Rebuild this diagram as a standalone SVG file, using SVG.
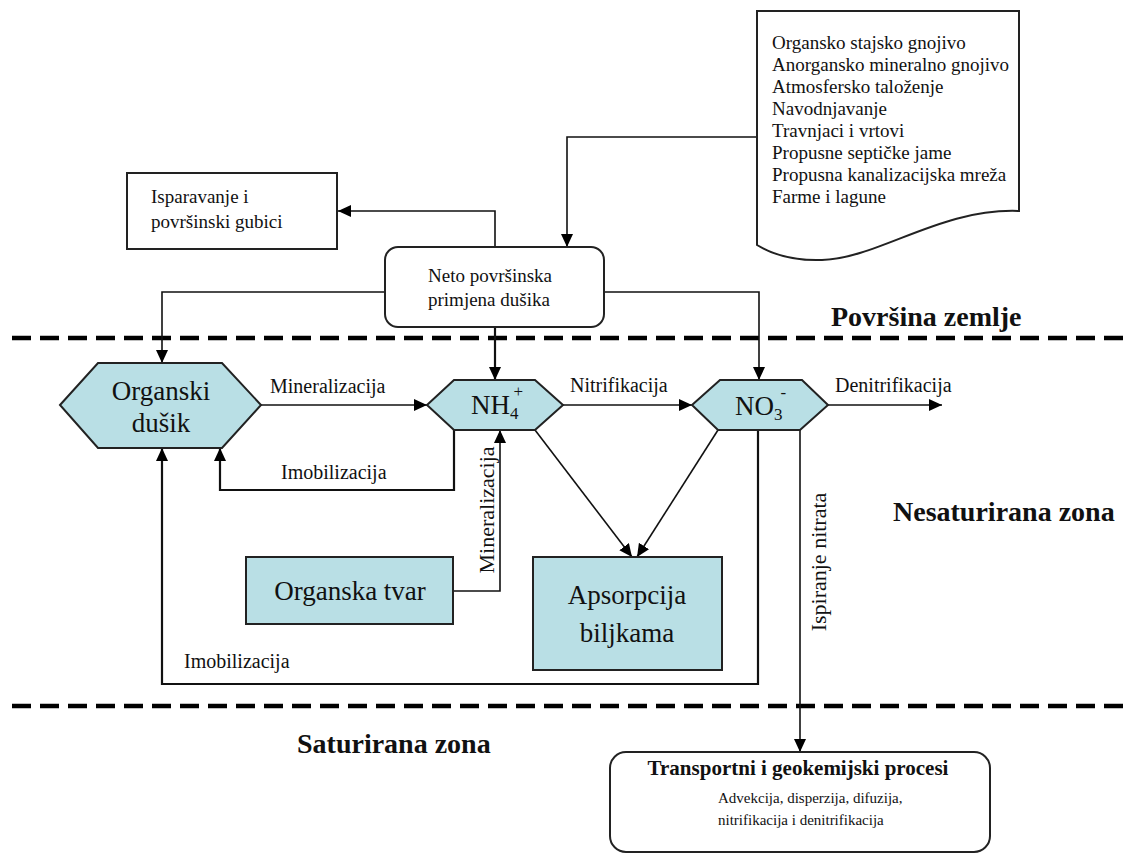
<svg xmlns="http://www.w3.org/2000/svg" width="1124" height="856" viewBox="0 0 1124 856">
<style>
text{font-family:"Liberation Serif","Times New Roman",serif;fill:#111}
.src{font-size:19px}
.lbl{font-size:20px}
.vl{font-size:22px}
.big{font-size:27px}
.zone{font-size:28px;font-weight:bold}
.node{fill:#b9dfe5;stroke:#222;stroke-width:2}
.box{fill:#fff;stroke:#222;stroke-width:2}
.c{fill:none;stroke:#111;stroke-width:1.6}
.t{stroke-width:2.2}
.dash{stroke:#000;stroke-width:4.5;stroke-dasharray:19 9;fill:none}
</style>
<defs>
<marker id="ah" markerUnits="userSpaceOnUse" markerWidth="13" markerHeight="12" refX="13" refY="6" orient="auto">
<path d="M0,0 L13,6 L0,12 z" fill="#000"/>
</marker>
</defs>
<rect width="1124" height="856" fill="#fff"/>

<g id="zones">
<line class="dash" x1="12" y1="338" x2="1124" y2="338"/>
<line class="dash" x1="12" y1="706" x2="1124" y2="706"/>
<text class="zone" x="831" y="326">Površina zemlje</text>
<text class="zone" x="893" y="521">Nesaturirana zona</text>
<text class="zone" x="297" y="753">Saturirana zona</text>
</g>

<g id="connectors">
<path class="c" d="M757,137 H567 V247" marker-end="url(#ah)"/>
<path class="c" d="M495,247 V211 H338" marker-end="url(#ah)"/>
<path class="c" d="M385,292 H162 V363" marker-end="url(#ah)"/>
<path class="c t" d="M495,327 V380" marker-end="url(#ah)"/>
<path class="c" d="M604,292 H759 V380" marker-end="url(#ah)"/>
<path class="c" d="M261,405 H427" marker-end="url(#ah)"/>
<path class="c" d="M563,405 H692" marker-end="url(#ah)"/>
<path class="c" d="M828,405 H942" marker-end="url(#ah)"/>
<path class="c t" d="M454,430 V490 H220 V448" marker-end="url(#ah)"/>
<path class="c" d="M453,591 H500 V430" marker-end="url(#ah)"/>
<path class="c" d="M535,430 L632,557" stroke-width="2.6" marker-end="url(#ah)"/>
<path class="c" d="M718,430 L637,557" marker-end="url(#ah)"/>
<path class="c t" d="M758,430 V684 H162 V448" marker-end="url(#ah)"/>
<path class="c" d="M800,430 V752" marker-end="url(#ah)"/>
<text class="lbl" x="270" y="393">Mineralizacija</text>
<text class="lbl" x="570" y="392">Nitrifikacija</text>
<text class="lbl" x="835" y="392">Denitrifikacija</text>
<text class="lbl" x="281" y="479">Imobilizacija</text>
<text class="lbl" x="184" y="668">Imobilizacija</text>
<text class="vl" transform="translate(494,510) rotate(-90)" text-anchor="middle">Mineralizacija</text>
<text class="vl" transform="translate(826,562) rotate(-90)" text-anchor="middle">Ispiranje nitrata</text>
</g>

<g id="sources">
<path class="box" d="M757,11 H1019 V211 C940,208 880,258 822,260 C795,261 772,254 757,245 Z"/>
<text class="src" x="772" y="49">Organsko stajsko gnojivo</text>
<text class="src" x="772" y="71">Anorgansko mineralno gnojivo</text>
<text class="src" x="772" y="93">Atmosfersko taloženje</text>
<text class="src" x="772" y="115">Navodnjavanje</text>
<text class="src" x="772" y="137">Travnjaci i vrtovi</text>
<text class="src" x="772" y="159">Propusne septičke jame</text>
<text class="src" x="772" y="181">Propusna kanalizacijska mreža</text>
<text class="src" x="772" y="203">Farme i lagune</text>
</g>

<g id="isparavanje">
<rect class="box" x="127" y="173" width="210" height="76"/>
<text class="src" x="151" y="203">Isparavanje i</text>
<text class="src" x="151" y="228">površinski gubici</text>
</g>

<g id="neto">
<rect class="box" x="385" y="247" width="219" height="80" rx="13"/>
<text class="src" x="428" y="282">Neto površinska</text>
<text class="src" x="428" y="306">primjena dušika</text>
</g>

<g id="organski-dusik">
<polygon class="node" points="60,405 98,363 222,363 261,405 222,448 98,448"/>
<text class="big" x="161" y="400" text-anchor="middle">Organski</text>
<text class="big" x="161" y="432" text-anchor="middle">dušik</text>
</g>

<g id="nh4">
<polygon class="node" points="427,405 454,380 535,380 563,405 535,430 454,430"/>
<text class="big" x="471" y="414" font-size="26">NH<tspan font-size="17" dy="5">4</tspan><tspan font-size="17" dx="-5" dy="-22">+</tspan></text>
</g>

<g id="no3">
<polygon class="node" points="692,405 720,380 802,380 828,405 800,430 718,430"/>
<text class="big" x="735" y="415">NO<tspan font-size="17" dy="5">3</tspan><tspan font-size="17" dx="-2" dy="-22">-</tspan></text>
</g>

<g id="organska-tvar">
<rect class="node" x="246" y="557" width="207" height="67"/>
<text class="big" x="350" y="600" text-anchor="middle">Organska tvar</text>
</g>

<g id="apsorpcija">
<rect class="node" x="533" y="557" width="189" height="113"/>
<text class="big" x="627" y="604" text-anchor="middle">Apsorpcija</text>
<text class="big" x="627" y="642" text-anchor="middle">biljkama</text>
</g>

<g id="transport">
<rect class="box" x="610" y="752" width="380" height="100" rx="16"/>
<text x="798" y="775" text-anchor="middle" font-size="21" font-weight="bold">Transportni i geokemijski procesi</text>
<text x="718" y="803" font-size="15">Advekcija, disperzija, difuzija,</text>
<text x="718" y="825" font-size="15">nitrifikacija i denitrifikacija</text>
</g>
</svg>
